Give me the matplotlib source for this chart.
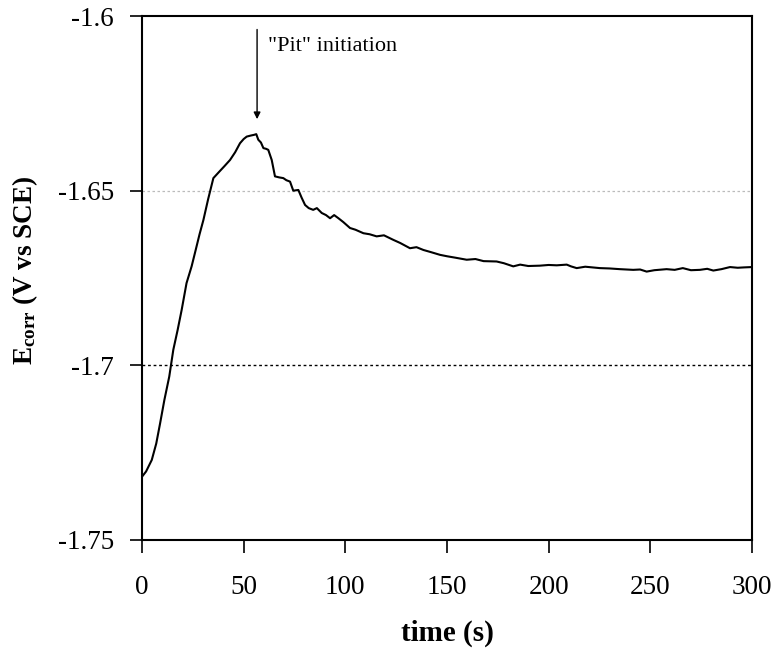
import matplotlib.pyplot as plt

# Datos
t = [0, 2, 4.8, 7, 8.9, 11, 13.4, 15.4, 17.5, 19.5, 21.9, 24.4, 26.4, 28.3, 30.2,
     32.5, 35.1, 38.1, 40.5, 43.3, 45.8, 48.2, 50, 51.5, 53.5, 55.1, 56.2, 57.2,
     58.5, 59.7, 61, 62.1, 63.8, 65.4, 67.5, 69.5, 71, 72.8, 74.4, 76.9, 78.5,
     80.2, 82, 84.2, 86, 88.4, 90.5, 92.5, 94.5, 96.6, 99, 102.3, 105, 108.9,
     112, 115.4, 119, 123.6, 127, 131.8, 135, 138.4, 142, 146.6, 150, 154,
     159.7, 164, 168, 174.4, 178, 182.6, 186, 190, 195.7, 200, 204, 208.9,
     211, 213.8, 218, 225.2, 230, 235, 241.6, 245, 248.2, 252, 258, 262, 266,
     270, 274.4, 278, 281, 285, 289.2, 293, 296, 300]
E = [-1.7320, -1.7305, -1.7272, -1.7225, -1.7167, -1.7100, -1.7033, -1.6956,
     -1.6900, -1.6842, -1.6765, -1.6717, -1.6670, -1.6625, -1.6584, -1.6525,
     -1.6464, -1.6445, -1.6430, -1.6412, -1.6390, -1.6364, -1.6352, -1.6345,
     -1.6342, -1.6340, -1.6338, -1.6354, -1.6362, -1.6378, -1.6380, -1.6383,
     -1.6412, -1.6459, -1.6462, -1.6464, -1.6470, -1.6474, -1.6500, -1.6498,
     -1.6520, -1.6541, -1.6550, -1.6555, -1.6550, -1.6564, -1.6570, -1.6579,
     -1.6570, -1.6579, -1.6590, -1.6607, -1.6612, -1.6622, -1.6625, -1.6631,
     -1.6628, -1.6641, -1.6650, -1.6665, -1.6662, -1.6670, -1.6676, -1.6684,
     -1.6688, -1.6692, -1.6698, -1.6696, -1.6702, -1.6703, -1.6708, -1.6717,
     -1.6712, -1.6716, -1.6715, -1.6713, -1.6714, -1.6712, -1.6717, -1.6722,
     -1.6718, -1.6722, -1.6723, -1.6725, -1.6727, -1.6726, -1.6732, -1.6728,
     -1.6725, -1.6727, -1.6722, -1.6728, -1.6727, -1.6724, -1.6729, -1.6725,
     -1.6719, -1.6721, -1.6720, -1.6719]

xticks = [0, 50, 100, 150, 200, 250, 300]
yticks = [-1.75, -1.7, -1.65, -1.6]
ylabels = ['-1.75', '-1.7', '-1.65', '-1.6']

plt.rcParams['font.family'] = ['Liberation Serif', 'DejaVu Serif']
plt.rcParams['mathtext.fontset'] = 'custom'
plt.rcParams['mathtext.rm'] = 'Liberation Serif'
plt.rcParams['mathtext.bf'] = 'Liberation Serif:bold'

fig = plt.figure(figsize=(7.76, 6.5), dpi=100)
ax = fig.add_axes([0.183, 0.170, 0.786, 0.805])

ax.axhline(-1.65, color='#bbbbbb', lw=0.9, ls=(0, (2, 2)), zorder=1)
ax.axhline(-1.7, color='black', lw=1.0, ls=(0, (2, 2)), zorder=1)
ax.plot(t, E, color='black', lw=1.5, zorder=3)

ax.annotate('', xy=(56.6, -1.6303), xytext=(56.6, -1.603),
            arrowprops=dict(arrowstyle='-|>', color='black', lw=1.0,
                            mutation_scale=10))
ax.text(62, -1.6087, '"Pit" initiation', fontsize=16, va='center', ha='left')

ax.set_xlim(0, 300)
ax.set_ylim(-1.75, -1.6)
ax.set_xticks(xticks)
ax.set_yticks(yticks)
ax.set_yticklabels(ylabels)
ax.tick_params(axis='both', direction='out', length=9, width=1.2,
               labelsize=19.5, colors='black')
ax.tick_params(axis='x', pad=16.5)
ax.tick_params(axis='y', pad=11)
for s in ax.spines.values():
    s.set_linewidth(1.5)

ax.set_xlabel('time (s)', fontsize=21, fontweight='bold', labelpad=14)
ax.set_ylabel(r'$\mathbf{E_{corr}}$ (V vs SCE)', fontsize=19.5,
              fontweight='bold')
ax.yaxis.set_label_coords(-0.168, 0.515)

fig.savefig('out.png', dpi=100)
